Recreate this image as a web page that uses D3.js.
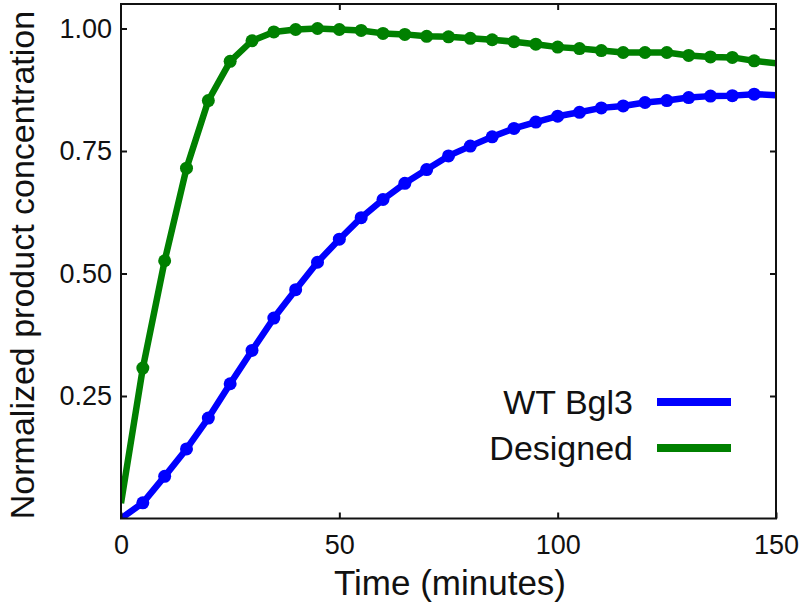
<!DOCTYPE html>
<html>
<head>
<meta charset="utf-8">
<script src="https://cdn.jsdelivr.net/npm/d3@7"></script>
<style>
  html, body { margin: 0; padding: 0; background: #fff; }
  svg { display: block; font-family: "Liberation Sans", Arial, Helvetica, sans-serif; }
</style>
</head>
<body>
<svg id="chart" width="800" height="610"></svg>
<script>
(function () {
// ---- Data ----
const timeMinutes = [0, 5, 10, 15, 20, 25, 30, 35, 40, 45, 50, 55, 60, 65, 70, 75,
  80, 85, 90, 95, 100, 105, 110, 115, 120, 125, 130, 135, 140, 145, 150];
const wtBgl3 = [0, 0.032, 0.086, 0.142, 0.205, 0.275, 0.343, 0.409, 0.467, 0.523,
  0.570, 0.614, 0.651, 0.684, 0.712, 0.740, 0.760, 0.779, 0.796, 0.809, 0.821,
  0.829, 0.838, 0.842, 0.849, 0.853, 0.859, 0.862, 0.863, 0.866, 0.864];
const designed = [0.031, 0.307, 0.526, 0.715, 0.853, 0.933, 0.975, 0.993, 0.998, 1.0,
  0.998, 0.996, 0.990, 0.988, 0.984, 0.983, 0.980, 0.977, 0.973, 0.968, 0.962,
  0.959, 0.955, 0.951, 0.951, 0.951, 0.945, 0.942, 0.941, 0.934, 0.929];
const seriesNames = ["WT Bgl3", "Designed"];
const seriesColors = ["#0000ff", "#008000"];
const xTicks = [0, 50, 100, 150];
const yTicks = [0.25, 0.5, 0.75, 1.0];
const xLabel = "Time (minutes)";
const yLabel = "Normalized product concentration";

// ---- Layout ----
const svg = d3.select("#chart");
const mLeft = 121, mRight = 776, mTop = 4, mBottom = 518.5;
const x = d3.scaleLinear().domain([0, 150]).range([mLeft, mRight]);
const y = d3.scaleLinear().domain([0, 1.05]).range([mBottom, mTop]);

const series = [wtBgl3, designed];

svg.append("defs").append("clipPath").attr("id", "clip")
  .append("rect").attr("x", mLeft).attr("y", mTop)
  .attr("width", mRight - mLeft).attr("height", mBottom - mTop);

const plot = svg.append("g").attr("clip-path", "url(#clip)");
const line = d3.line().x((d, i) => x(timeMinutes[i])).y(d => y(d));

series.forEach((vals, si) => {
  plot.append("path").datum(vals)
    .attr("d", line)
    .attr("fill", "none")
    .attr("stroke", seriesColors[si])
    .attr("stroke-width", 6.5)
    .attr("stroke-linejoin", "round");
  plot.selectAll(null)
    .data(vals.map((v, i) => ({t: timeMinutes[i], v})).filter(d => d.t > 0 && d.t < 150))
    .enter().append("circle")
    .attr("cx", d => x(d.t)).attr("cy", d => y(d.v))
    .attr("r", 6.5)
    .attr("fill", seriesColors[si]);
});

// ---- Axes (inward ticks on all sides) ----
const tickLen = 6;
const axB = d3.axisBottom(x).tickValues(xTicks).tickSizeInner(-tickLen).tickSizeOuter(0).tickPadding(16).tickFormat(d3.format("d"));
const axT = d3.axisTop(x).tickValues([50, 100]).tickSizeInner(-tickLen).tickSizeOuter(0).tickFormat("");
const axL = d3.axisLeft(y).tickValues(yTicks).tickSizeInner(-tickLen).tickSizeOuter(0).tickPadding(9).tickFormat(d3.format(".2f"));
const axR = d3.axisRight(y).tickValues(yTicks).tickSizeInner(-tickLen).tickSizeOuter(0).tickFormat("");

function styleAxis(g) {
  g.select(".domain").remove();
  g.selectAll(".tick line").attr("stroke", "#111").attr("stroke-width", 2);
  g.selectAll(".tick text").attr("fill", "#111").attr("font-size", 27)
    .attr("font-family", "Liberation Sans, Arial, sans-serif");
}
svg.append("g").attr("transform", `translate(0,${mBottom})`).call(axB).call(styleAxis);
svg.append("g").attr("transform", `translate(0,${mTop})`).call(axT).call(styleAxis);
svg.append("g").attr("transform", `translate(${mLeft},0)`).call(axL).call(styleAxis);
svg.append("g").attr("transform", `translate(${mRight},0)`).call(axR).call(styleAxis);

// frame
svg.append("rect").attr("x", mLeft).attr("y", mTop)
  .attr("width", mRight - mLeft).attr("height", mBottom - mTop)
  .attr("fill", "none").attr("stroke", "#111").attr("stroke-width", 2);

// ---- Axis labels ----
svg.append("text").attr("x", 450).attr("y", 595)
  .attr("text-anchor", "middle").attr("font-size", 35).attr("fill", "#111")
  .text(xLabel);
svg.append("text")
  .attr("transform", "translate(34,265) rotate(-90)")
  .attr("text-anchor", "middle").attr("font-size", 34).attr("fill", "#111")
  .text(yLabel);

// ---- Legend ----
const legY = [402, 448];
seriesNames.forEach((name, i) => {
  svg.append("text").attr("x", 633).attr("y", legY[i]).attr("dy", "0.36em")
    .attr("text-anchor", "end").attr("font-size", 34).attr("fill", "#111")
    .text(name);
  svg.append("line").attr("x1", 657).attr("x2", 731)
    .attr("y1", legY[i]).attr("y2", legY[i])
    .attr("stroke", seriesColors[i]).attr("stroke-width", 8);
});
})();
</script>
</body>
</html>
